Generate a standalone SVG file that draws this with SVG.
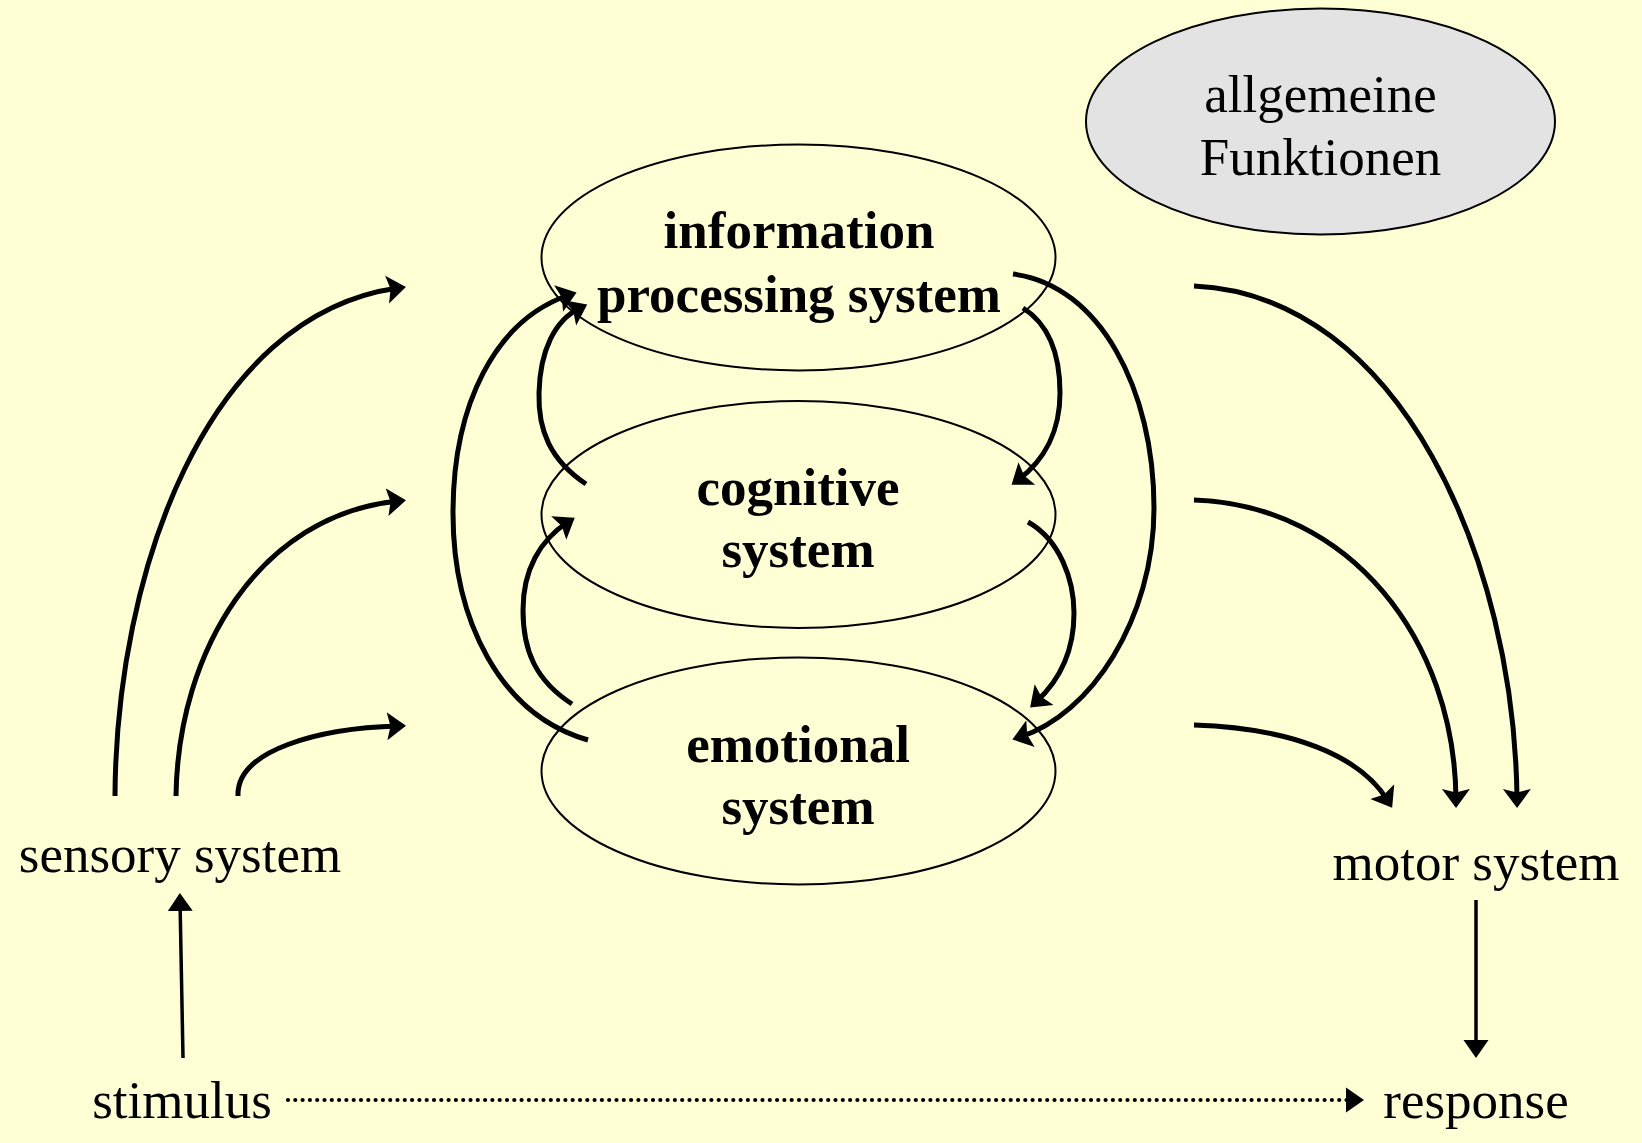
<svg xmlns="http://www.w3.org/2000/svg" width="1642" height="1143" viewBox="0 0 1642 1143">
<style>
.bg{fill:#FFFFD6}
.sys{fill:none;stroke:#000;stroke-width:2}
.gen{fill:#E3E3E3;stroke:#000;stroke-width:2}
.t{font-family:"Liberation Serif","Times New Roman",serif;font-size:53px;fill:#000;text-anchor:middle}
.b{font-weight:bold}
.thick{fill:none;stroke:#000;stroke-width:5;marker-end:url(#ah)}
.thin{fill:none;stroke:#000;stroke-width:3.5;marker-end:url(#ahs)}
.dot{fill:none;stroke:#000;stroke-width:4.2;stroke-linecap:round;stroke-dasharray:0 7.3;marker-end:url(#ahs)}
</style>
<defs>
<marker id="ah" markerUnits="userSpaceOnUse" viewBox="0 -15 20 30" markerWidth="20" markerHeight="30" refX="11" refY="0" orient="auto">
<path d="M0,-14 L19,0 L0,14 L3.5,0 Z" fill="#000"/>
</marker>
<marker id="ahs" markerUnits="userSpaceOnUse" viewBox="0 -14 19 28" markerWidth="19" markerHeight="28" refX="11" refY="0" orient="auto">
<path d="M0,-12.5 L18,0 L0,12.5 Z" fill="#000"/>
</marker>
</defs>
<rect class="bg" x="0" y="0" width="1642" height="1143"/>

<g id="node-info">
<ellipse class="sys" cx="798.5" cy="257.5" rx="257" ry="113"/>
<text class="t b" x="799" y="248">information</text>
<text class="t b" x="799" y="312">processing system</text>
</g>
<g id="node-cognitive">
<ellipse class="sys" cx="798.5" cy="514.5" rx="257" ry="113.5"/>
<text class="t b" x="798" y="505">cognitive</text>
<text class="t b" x="798" y="567">system</text>
</g>
<g id="node-emotional">
<ellipse class="sys" cx="798.5" cy="771" rx="257" ry="113.5"/>
<text class="t b" x="798" y="762">emotional</text>
<text class="t b" x="798" y="824">system</text>
</g>
<g id="node-general">
<ellipse class="gen" cx="1320.5" cy="121.5" rx="234.5" ry="113"/>
<text class="t" x="1320.5" y="112">allgemeine</text>
<text class="t" x="1320.5" y="175">Funktionen</text>
</g>
<g id="node-sensory">
<text class="t" x="180" y="872">sensory system</text>
</g>
<g id="node-motor">
<text class="t" x="1476" y="880">motor system</text>
</g>
<g id="node-stimulus">
<text class="t" x="182" y="1118">stimulus</text>
</g>
<g id="node-response">
<text class="t" x="1476" y="1118">response</text>
</g>

<g id="connectors">
<path class="thick" d="M115,796 C116,575 205,315 398,288"/>
<path class="thick" d="M176,796 C178,650 260,515 398,501"/>
<path class="thick" d="M238,796 C236,750 320,728 398,726"/>

<path class="thick" d="M1194,286 C1400,295 1515,560 1517,800"/>
<path class="thick" d="M1194,500 C1350,505 1455,640 1456,800"/>
<path class="thick" d="M1194,725 C1290,728 1360,755 1388,801"/>

<path class="thick" d="M588,740 C500,715 453,620 453,513 C453,405 495,320 569,295"/>
<path class="thick" d="M586,484 C550,460 538,430 539,393 C540,350 555,320 580,308"/>
<path class="thick" d="M572,704 C535,680 523,650 523,610 C523,570 540,540 568,522"/>
<path class="thick" d="M1023,308 C1050,325 1060,355 1060,393 C1060,430 1045,460 1018,480"/>
<path class="thick" d="M1028,522 C1060,540 1074,580 1074,613 C1074,650 1060,680 1036,702"/>
<path class="thick" d="M1013,274 C1100,285 1154,390 1154,508 C1154,620 1090,715 1020,737"/>

<path class="thin" d="M183,1058 L180,900"/>
<path class="thin" d="M1476,900 L1476,1051"/>
<path class="dot" d="M288,1100 L1357,1100"/>
</g>
</svg>
